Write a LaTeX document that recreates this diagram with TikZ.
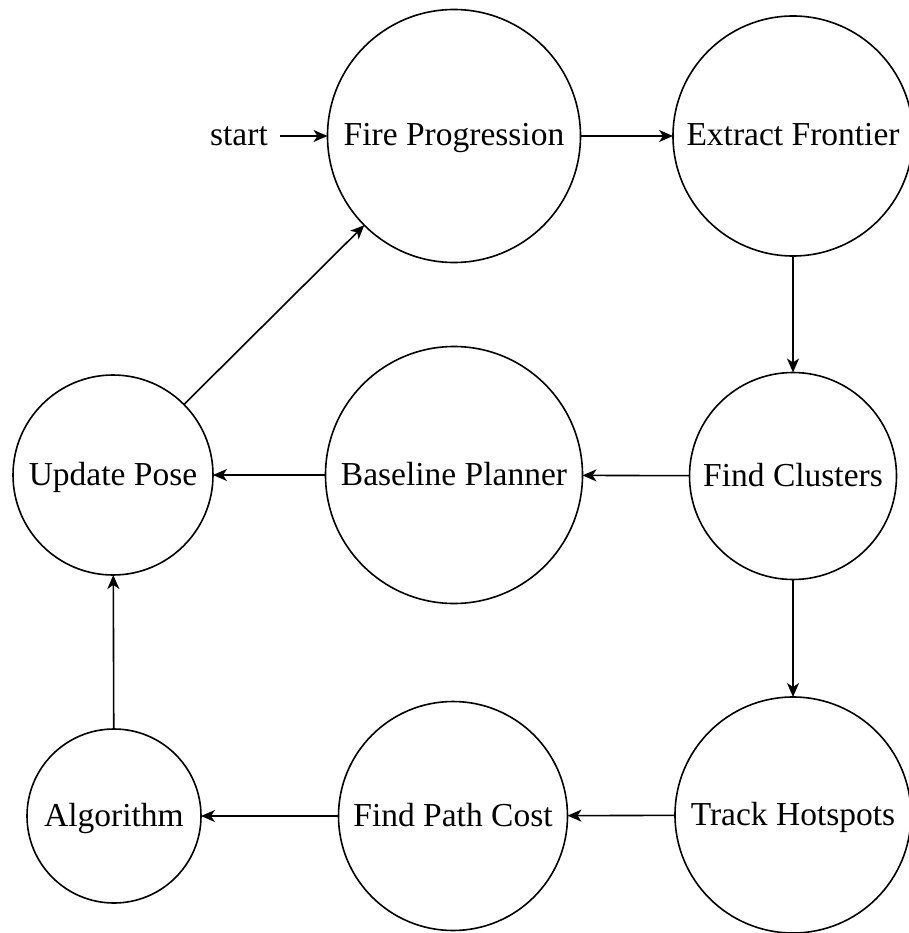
\documentclass[tikz,border=0pt]{standalone}
\usepackage{fontspec}
\setmainfont{Liberation Serif}
\usetikzlibrary{arrows.meta}
\begin{document}
\begin{tikzpicture}[x=1pt,y=-1pt,
  every node/.style={font=\fontsize{33.5}{40}\selectfont},
  state/.style={circle,draw,line width=1.6pt,inner sep=0pt,outer sep=0pt,
    text height=23pt,text depth=3pt},
  flow/.style={line width=1.6pt,-{Stealth[length=14pt,width=12pt,inset=4pt]}}]
  \useasboundingbox (0,0) rectangle (908,933);

  % states, on a 3x3 grid
  \node[state,minimum size=253pt] (fire)  at (454,136) {Fire Progression};
  \node[state,minimum size=240pt] (front) at (793,136) {Extract Frontier};
  \node[state,minimum size=207pt] (clus)  at (793,476) {Find Clusters};
  \node[state,minimum size=257pt] (base)  at (454,475) {Baseline Planner};
  \node[state,minimum size=200pt] (pose)  at (113,475) {Update Pose};
  \node[state,minimum size=236pt] (hot)   at (793,815) {Track Hotspots};
  \node[state,minimum size=229pt] (cost)  at (453,816) {Find Path Cost};
  \node[state,minimum size=174pt] (algo)  at (114,816) {Algorithm};

  % initial marker
  \node[anchor=east,inner sep=0pt,text height=23pt,text depth=3pt] (start) at (268,136) {start};
  \coordinate (s0) at (280,136);

  % transitions
  \draw[flow] (s0) -- (fire);
  \draw[flow] (fire) -- (front);
  \draw[flow] (front) -- (clus);
  \draw[flow] (clus) -- (base);
  \draw[flow] (base) -- (pose);
  \draw[flow] (clus) -- (hot);
  \draw[flow] (hot) -- (cost);
  \draw[flow] (cost) -- (algo);
  \draw[flow] (algo) -- (pose);
  \draw[flow] (pose) -- (fire);
\end{tikzpicture}
\end{document}
